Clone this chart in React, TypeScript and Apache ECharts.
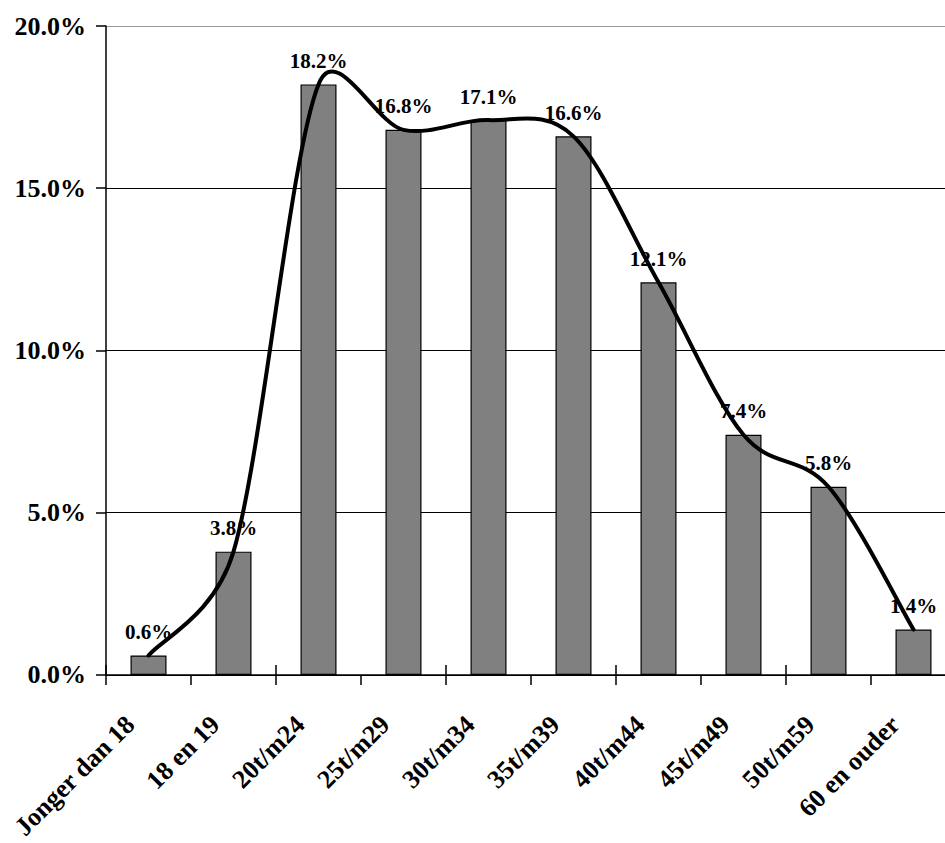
import React, { useEffect, useRef } from "react";
import * as echarts from "echarts";

// Leeftijdsgroepen en hun aandeel (%)
const categories = [
  "Jonger dan 18",
  "18 en 19",
  "20t/m24",
  "25t/m29",
  "30t/m34",
  "35t/m39",
  "40t/m44",
  "45t/m49",
  "50t/m59",
  "60 en ouder",
];
const shares = [0.6, 3.8, 18.2, 16.8, 17.1, 16.6, 12.1, 7.4, 5.8, 1.4];

const yMin = 0;
const yMax = 20;
const yStep = 5;

const FONT = "'Liberation Serif', 'Times New Roman', serif";

// Bezier path through pixel points, spreadsheet-style smoothing:
// 1/6 Catmull-Rom tangents, control arm limited to half the segment length.
function smoothPath(pts: number[][]): string {
  const n = pts.length;
  if (n === 0) return "";
  const dist = (a: number[], b: number[]) => Math.hypot(b[0] - a[0], b[1] - a[1]);
  let d = `M${pts[0][0]},${pts[0][1]}`;
  for (let i = 0; i < n - 1; i++) {
    const p0 = pts[Math.max(i - 1, 0)];
    const p1 = pts[i];
    const p2 = pts[i + 1];
    const p3 = pts[Math.min(i + 2, n - 1)];
    const d02 = dist(p0, p2);
    const d12 = dist(p1, p2);
    const d13 = dist(p1, p3);
    const f0 = d02 / 6 < d12 / 2 ? 1 / 6 : d12 / (2 * d02);
    const f3 = d13 / 6 < d12 / 2 ? 1 / 6 : d12 / (2 * d13);
    const c1x = p1[0] + f0 * (p2[0] - p0[0]);
    const c1y = p1[1] + f0 * (p2[1] - p0[1]);
    const c2x = p2[0] - f3 * (p3[0] - p1[0]);
    const c2y = p2[1] - f3 * (p3[1] - p1[1]);
    d += ` C${c1x},${c1y} ${c2x},${c2y} ${p2[0]},${p2[1]}`;
  }
  return d;
}

export default function App() {
  const ref = useRef<HTMLDivElement>(null);

  useEffect(() => {
    if (!ref.current) return;
    const chart = echarts.init(ref.current, undefined, { renderer: "svg" });
    chart.setOption({
      animation: false,
      backgroundColor: "#ffffff",
      grid: { left: 106, top: 26, width: 850, height: 650 },
      xAxis: [
        {
          type: "category",
          data: categories,
          boundaryGap: true,
          axisLine: { lineStyle: { color: "#000", width: 1.5 } },
          axisTick: { show: true, length: 10, lineStyle: { color: "#000", width: 1.5 } },
          axisLabel: {
            interval: 0,
            rotate: 45,
            margin: 27,
            color: "#000",
            fontFamily: FONT,
            fontWeight: "bold",
            fontSize: 26,
            formatter: (v: string) => `${v}{g|}`,
            rich: { g: { width: 26 } },
          },
          splitLine: { show: false },
        },
        {
          // inner half of the crossing tick marks
          type: "category",
          data: categories,
          position: "bottom",
          boundaryGap: true,
          axisLine: { show: false },
          axisTick: { show: true, inside: true, length: 10, lineStyle: { color: "#000", width: 1.5 } },
          axisLabel: { show: false },
          splitLine: { show: false },
        },
      ],
      yAxis: {
        type: "value",
        min: yMin,
        max: yMax,
        interval: yStep,
        axisLine: { show: true, lineStyle: { color: "#000", width: 1.5 } },
        axisTick: { show: true, length: 10, lineStyle: { color: "#000", width: 1.5 } },
        axisLabel: {
          margin: 20,
          color: "#000",
          fontFamily: FONT,
          fontWeight: "bold",
          fontSize: 26,
          formatter: (v: number) => v.toFixed(1) + "%",
        },
        splitLine: {
          show: true,
          lineStyle: { color: ["#000", "#000", "#000", "#000", "#9a9a9a"], width: 1.2 },
        },
      },
      series: [
        {
          type: "bar",
          data: shares,
          barWidth: 36,
          itemStyle: { color: "#808080", borderColor: "#000", borderWidth: 1.2 },
          label: {
            show: true,
            position: "top",
            distance: 13,
            color: "#000",
            fontFamily: FONT,
            fontWeight: "bold",
            fontSize: 21,
            formatter: (p: any) => Number(p.value).toFixed(1) + "%",
          },
          z: 2,
        },
        {
          // smoothed trend line through the bar tops
          type: "custom",
          data: shares.map((v, i) => [i, v]),
          encode: { x: 0, y: 1 },
          z: 5,
          silent: true,
          renderItem: (params: any, api: any) => {
            if (params.dataIndex !== 0) return { type: "group", children: [] };
            const pts = shares.map((v, i) => api.coord([i, v]));
            return {
              type: "path",
              shape: { pathData: smoothPath(pts) },
              style: { stroke: "#000", lineWidth: 4, fill: "none", lineCap: "round", lineJoin: "round" },
            };
          },
        },
      ],
    });
    return () => chart.dispose();
  }, []);

  return (
    <div
      style={{
        position: "fixed",
        left: 0,
        top: 0,
        width: 945,
        height: 843,
        overflow: "hidden",
        background: "#fff",
      }}
    >
      <div ref={ref} style={{ width: 960, height: 843 }} />
    </div>
  );
}
